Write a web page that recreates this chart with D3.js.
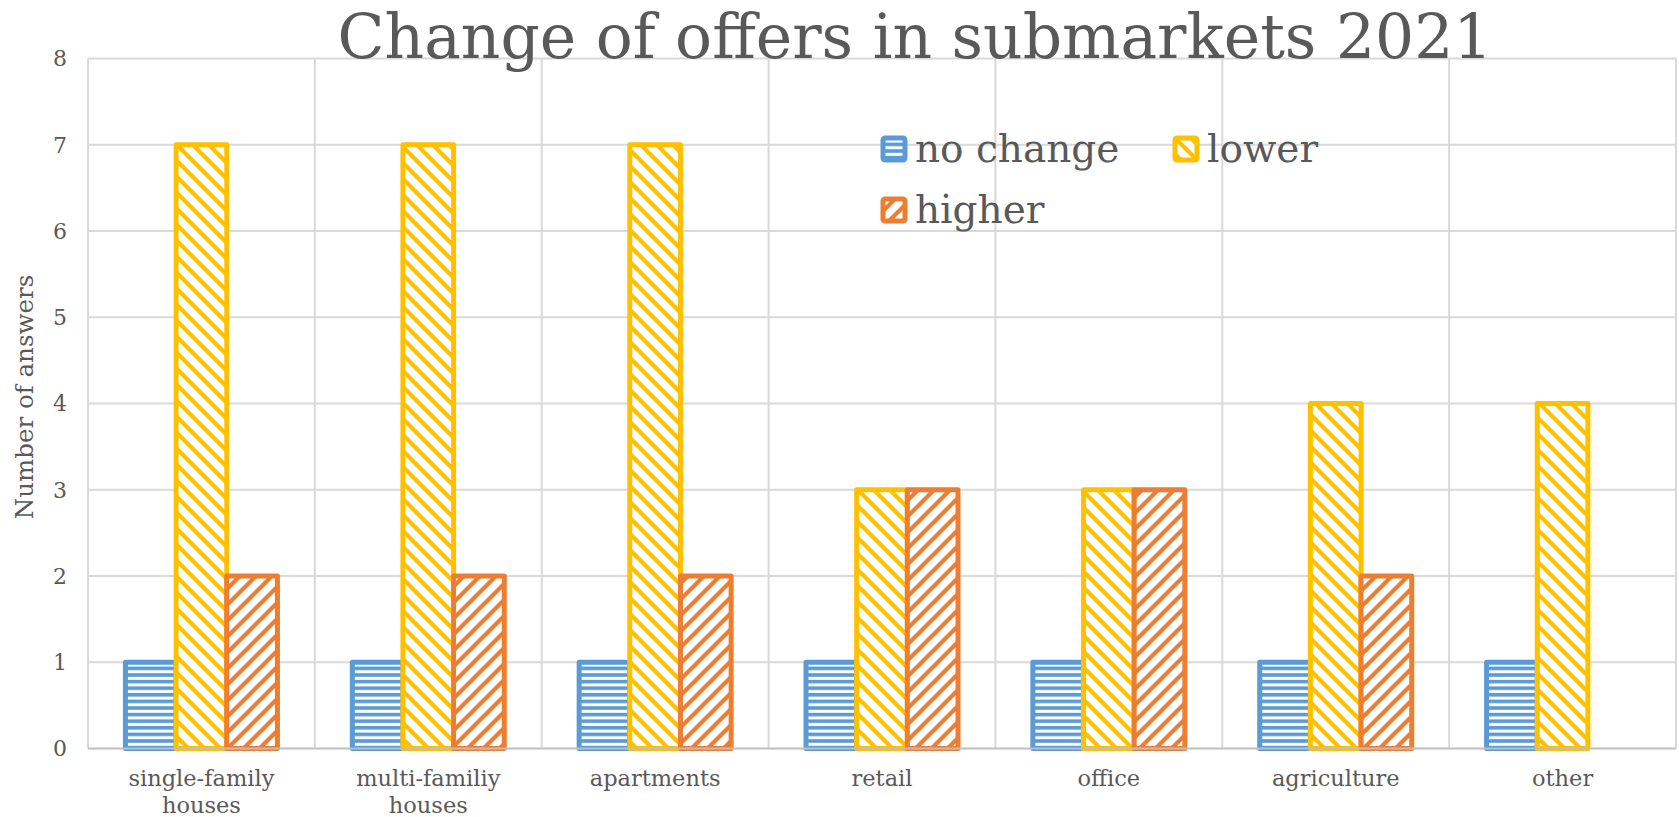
<!DOCTYPE html>
<html>
<head>
<meta charset="utf-8">
<script src="https://cdn.jsdelivr.net/npm/d3@7"></script>
<style>
  html, body { margin: 0; padding: 0; background: #fff; }
  svg { display: block; font-family: "DejaVu Serif", "Liberation Serif", serif; }
</style>
</head>
<body>
<div id="container"></div>
<script>
const categories = [
  ['single-family', 'houses'],
  ['multi-familiy', 'houses'],
  ['apartments'],
  ['retail'],
  ['office'],
  ['agriculture'],
  ['other'],
];
const seriesNames = ['no change', 'lower', 'higher'];
const noChange = [1, 1, 1, 1, 1, 1, 1];
const lower = [7, 7, 7, 3, 3, 4, 4];
const higher = [2, 2, 2, 3, 3, 2, 0];
const yTicks = [0, 1, 2, 3, 4, 5, 6, 7, 8];

const width = 1679;
const height = 817;
const plot = { left: 88, right: 1676, top: 58.5, bottom: 748.5 };
const textColor = '#595959';

const seriesStyle = {
  'no change': { color: '#5B9BD5', pattern: 'pat-horiz' },
  lower: { color: '#FFC000', pattern: 'pat-down' },
  higher: { color: '#ED7D31', pattern: 'pat-up' },
};
const values = { 'no change': noChange, lower: lower, higher: higher };

const catKeys = categories.map(c => c.join(' '));

const svg = d3
  .select('#container')
  .append('svg')
  .attr('width', width)
  .attr('height', height);

// fill patterns
const defs = svg.append('defs');

const horiz = defs
  .append('pattern')
  .attr('id', 'pat-horiz')
  .attr('patternUnits', 'userSpaceOnUse')
  .attr('width', 8)
  .attr('height', 6.6);
horiz.append('rect').attr('width', 8).attr('height', 6.6).attr('fill', '#fff');
horiz.append('rect').attr('width', 8).attr('height', 3.6).attr('fill', seriesStyle['no change'].color);

function diagPattern(id, color, down) {
  const s = 16;
  const p = defs
    .append('pattern')
    .attr('id', id)
    .attr('patternUnits', 'userSpaceOnUse')
    .attr('width', s)
    .attr('height', s);
  p.append('rect').attr('width', s).attr('height', s).attr('fill', '#fff');
  const d = down
    ? `M-4,-4 L${s + 4},${s + 4} M-4,${s - 4} L4,${s + 4} M${s - 4},-4 L${s + 4},4`
    : `M-4,${s + 4} L${s + 4},-4 M-4,4 L4,-4 M${s - 4},${s + 4} L${s + 4},${s - 4}`;
  p.append('path').attr('d', d).attr('stroke', color).attr('stroke-width', 4.2);
}
diagPattern('pat-down', seriesStyle.lower.color, true);
diagPattern('pat-up', seriesStyle.higher.color, false);

// scales
const x0 = d3.scaleBand().domain(catKeys).range([plot.left, plot.right]).padding(0);
const bw = x0.bandwidth();
const x1 = d3
  .scaleBand()
  .domain(seriesNames)
  .range([bw * 0.165, bw * 0.835])
  .padding(0);
const y = d3.scaleLinear().domain([0, 8]).range([plot.bottom, plot.top]);

// gridlines
const grid = svg.append('g').attr('stroke', '#D9D9D9').attr('stroke-width', 2);
grid
  .selectAll('.hgrid')
  .data(yTicks.filter(t => t > 0))
  .enter()
  .append('line')
  .attr('x1', plot.left)
  .attr('x2', plot.right)
  .attr('y1', d => y(d))
  .attr('y2', d => y(d));
grid
  .selectAll('.vgrid')
  .data(catKeys)
  .enter()
  .append('line')
  .attr('x1', d => x0(d) + bw)
  .attr('x2', d => x0(d) + bw)
  .attr('y1', plot.top)
  .attr('y2', plot.bottom);
grid
  .append('line')
  .attr('x1', plot.left)
  .attr('x2', plot.left)
  .attr('y1', plot.top)
  .attr('y2', plot.bottom);

// bars
const bars = [];
seriesNames.forEach(s => {
  catKeys.forEach((c, i) => {
    if (values[s][i] > 0) bars.push({ series: s, cat: c, value: values[s][i] });
  });
});

svg
  .append('g')
  .selectAll('rect')
  .data(bars)
  .enter()
  .append('rect')
  .attr('x', d => x0(d.cat) + x1(d.series))
  .attr('y', d => y(d.value))
  .attr('width', x1.bandwidth())
  .attr('height', d => y(0) - y(d.value))
  .attr('fill', d => `url(#${seriesStyle[d.series].pattern})`)
  .attr('stroke', d => seriesStyle[d.series].color)
  .attr('stroke-width', 5)
  .attr('stroke-linejoin', 'round');

// x axis line
svg
  .append('line')
  .attr('x1', plot.left)
  .attr('x2', plot.right)
  .attr('y1', y(0))
  .attr('y2', y(0))
  .attr('stroke', '#BFBFBF')
  .attr('stroke-width', 2);

// y tick labels
svg
  .append('g')
  .selectAll('text')
  .data(yTicks)
  .enter()
  .append('text')
  .attr('x', 67)
  .attr('y', d => y(d))
  .attr('dy', '0.36em')
  .attr('text-anchor', 'end')
  .attr('font-size', 22)
  .attr('fill', textColor)
  .text(d => d);

// category labels
const catLabels = svg
  .append('g')
  .selectAll('text')
  .data(categories)
  .enter()
  .append('text')
  .attr('x', (d, i) => x0(catKeys[i]) + bw / 2)
  .attr('y', 786)
  .attr('text-anchor', 'middle')
  .attr('font-size', 22.5)
  .attr('fill', textColor);
catLabels
  .selectAll('tspan')
  .data(d => d)
  .enter()
  .append('tspan')
  .attr('x', function () {
    return this.parentNode.getAttribute('x');
  })
  .attr('dy', (d, i) => (i === 0 ? 0 : 26.5))
  .text(d => d);

// y axis title
svg
  .append('text')
  .attr('transform', 'translate(33,397) rotate(-90)')
  .attr('text-anchor', 'middle')
  .attr('font-size', 24.5)
  .attr('fill', textColor)
  .text('Number of answers');

// title
svg
  .append('text')
  .attr('x', 915)
  .attr('y', 58)
  .attr('text-anchor', 'middle')
  .attr('font-size', 61.5)
  .attr('fill', textColor)
  .text('Change of offers in submarkets 2021');

// legend
const legendPos = [
  { x: 881, y: 136 },
  { x: 1173, y: 136 },
  { x: 881, y: 197 },
];
const legend = svg
  .append('g')
  .selectAll('g')
  .data(seriesNames)
  .enter()
  .append('g')
  .attr('transform', (d, i) => `translate(${legendPos[i].x},${legendPos[i].y})`);
legend
  .append('rect')
  .attr('x', 2)
  .attr('y', 2)
  .attr('width', 22)
  .attr('height', 22)
  .attr('rx', 2)
  .attr('fill', d => `url(#${seriesStyle[d].pattern})`)
  .attr('stroke', d => seriesStyle[d].color)
  .attr('stroke-width', 5);
legend
  .append('text')
  .attr('x', 34)
  .attr('y', 26)
  .attr('font-size', 39)
  .attr('fill', textColor)
  .text(d => d);
</script>
</body>
</html>
